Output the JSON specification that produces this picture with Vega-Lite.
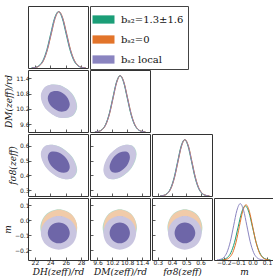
{
"$schema":"https://vega.github.io/schema/vega-lite/v6.json",
"padding":{"left":2,"top":5,"right":2,"bottom":2},
"autosize":{"type":"pad"},
"background":"white",
"columns":4,
"spacing":0,
"datasets":{
"contours":[
{"panel":"DH-DM","contour":"A1 1.3±1.6 95%","i":0,"x":27.49,"y":10.3},{"panel":"DH-DM","contour":"A1 1.3±1.6 95%","i":1,"x":26.81,"y":10.81},{"panel":"DH-DM","contour":"A1 1.3±1.6 95%","i":2,"x":25.16,"y":11.13},{"panel":"DH-DM","contour":"A1 1.3±1.6 95%","i":3,"x":23.51,"y":11.09},{"panel":"DH-DM","contour":"A1 1.3±1.6 95%","i":4,"x":22.83,"y":10.7},{"panel":"DH-DM","contour":"A1 1.3±1.6 95%","i":5,"x":23.51,"y":10.19},{"panel":"DH-DM","contour":"A1 1.3±1.6 95%","i":6,"x":25.16,"y":9.87},{"panel":"DH-DM","contour":"A1 1.3±1.6 95%","i":7,"x":26.81,"y":9.91},
{"panel":"DH-DM","contour":"C1 local 95%","i":0,"x":27.43,"y":10.3},{"panel":"DH-DM","contour":"C1 local 95%","i":1,"x":26.75,"y":10.81},{"panel":"DH-DM","contour":"C1 local 95%","i":2,"x":25.1,"y":11.13},{"panel":"DH-DM","contour":"C1 local 95%","i":3,"x":23.45,"y":11.09},{"panel":"DH-DM","contour":"C1 local 95%","i":4,"x":22.77,"y":10.7},{"panel":"DH-DM","contour":"C1 local 95%","i":5,"x":23.45,"y":10.19},{"panel":"DH-DM","contour":"C1 local 95%","i":6,"x":25.1,"y":9.87},{"panel":"DH-DM","contour":"C1 local 95%","i":7,"x":26.75,"y":9.91},
{"panel":"DH-DM","contour":"C2 local 68%","i":0,"x":26.53,"y":10.38},{"panel":"DH-DM","contour":"C2 local 68%","i":1,"x":26.11,"y":10.69},{"panel":"DH-DM","contour":"C2 local 68%","i":2,"x":25.1,"y":10.89},{"panel":"DH-DM","contour":"C2 local 68%","i":3,"x":24.09,"y":10.86},{"panel":"DH-DM","contour":"C2 local 68%","i":4,"x":23.67,"y":10.62},{"panel":"DH-DM","contour":"C2 local 68%","i":5,"x":24.09,"y":10.31},{"panel":"DH-DM","contour":"C2 local 68%","i":6,"x":25.1,"y":10.11},{"panel":"DH-DM","contour":"C2 local 68%","i":7,"x":26.11,"y":10.14},

{"panel":"DH-fs8","contour":"A1 1.3±1.6 95%","i":0,"x":27.49,"y":0.437},{"panel":"DH-fs8","contour":"A1 1.3±1.6 95%","i":1,"x":26.81,"y":0.527},{"panel":"DH-fs8","contour":"A1 1.3±1.6 95%","i":2,"x":25.16,"y":0.595},{"panel":"DH-fs8","contour":"A1 1.3±1.6 95%","i":3,"x":23.51,"y":0.602},{"panel":"DH-fs8","contour":"A1 1.3±1.6 95%","i":4,"x":22.83,"y":0.543},{"panel":"DH-fs8","contour":"A1 1.3±1.6 95%","i":5,"x":23.51,"y":0.453},{"panel":"DH-fs8","contour":"A1 1.3±1.6 95%","i":6,"x":25.16,"y":0.385},{"panel":"DH-fs8","contour":"A1 1.3±1.6 95%","i":7,"x":26.81,"y":0.378},
{"panel":"DH-fs8","contour":"C1 local 95%","i":0,"x":27.43,"y":0.437},{"panel":"DH-fs8","contour":"C1 local 95%","i":1,"x":26.75,"y":0.527},{"panel":"DH-fs8","contour":"C1 local 95%","i":2,"x":25.1,"y":0.595},{"panel":"DH-fs8","contour":"C1 local 95%","i":3,"x":23.45,"y":0.602},{"panel":"DH-fs8","contour":"C1 local 95%","i":4,"x":22.77,"y":0.543},{"panel":"DH-fs8","contour":"C1 local 95%","i":5,"x":23.45,"y":0.453},{"panel":"DH-fs8","contour":"C1 local 95%","i":6,"x":25.1,"y":0.385},{"panel":"DH-fs8","contour":"C1 local 95%","i":7,"x":26.75,"y":0.378},
{"panel":"DH-fs8","contour":"C2 local 68%","i":0,"x":26.53,"y":0.457},{"panel":"DH-fs8","contour":"C2 local 68%","i":1,"x":26.11,"y":0.513},{"panel":"DH-fs8","contour":"C2 local 68%","i":2,"x":25.1,"y":0.555},{"panel":"DH-fs8","contour":"C2 local 68%","i":3,"x":24.09,"y":0.559},{"panel":"DH-fs8","contour":"C2 local 68%","i":4,"x":23.67,"y":0.523},{"panel":"DH-fs8","contour":"C2 local 68%","i":5,"x":24.09,"y":0.467},{"panel":"DH-fs8","contour":"C2 local 68%","i":6,"x":25.1,"y":0.425},{"panel":"DH-fs8","contour":"C2 local 68%","i":7,"x":26.11,"y":0.421},

{"panel":"DM-fs8","contour":"A1 1.3±1.6 95%","i":0,"x":11.18,"y":0.543},{"panel":"DM-fs8","contour":"A1 1.3±1.6 95%","i":1,"x":10.99,"y":0.602},{"panel":"DM-fs8","contour":"A1 1.3±1.6 95%","i":2,"x":10.52,"y":0.595},{"panel":"DM-fs8","contour":"A1 1.3±1.6 95%","i":3,"x":10.05,"y":0.527},{"panel":"DM-fs8","contour":"A1 1.3±1.6 95%","i":4,"x":9.86,"y":0.437},{"panel":"DM-fs8","contour":"A1 1.3±1.6 95%","i":5,"x":10.05,"y":0.378},{"panel":"DM-fs8","contour":"A1 1.3±1.6 95%","i":6,"x":10.52,"y":0.385},{"panel":"DM-fs8","contour":"A1 1.3±1.6 95%","i":7,"x":10.99,"y":0.453},
{"panel":"DM-fs8","contour":"C1 local 95%","i":0,"x":11.16,"y":0.543},{"panel":"DM-fs8","contour":"C1 local 95%","i":1,"x":10.97,"y":0.602},{"panel":"DM-fs8","contour":"C1 local 95%","i":2,"x":10.5,"y":0.595},{"panel":"DM-fs8","contour":"C1 local 95%","i":3,"x":10.03,"y":0.527},{"panel":"DM-fs8","contour":"C1 local 95%","i":4,"x":9.84,"y":0.437},{"panel":"DM-fs8","contour":"C1 local 95%","i":5,"x":10.03,"y":0.378},{"panel":"DM-fs8","contour":"C1 local 95%","i":6,"x":10.5,"y":0.385},{"panel":"DM-fs8","contour":"C1 local 95%","i":7,"x":10.97,"y":0.453},
{"panel":"DM-fs8","contour":"C2 local 68%","i":0,"x":10.91,"y":0.523},{"panel":"DM-fs8","contour":"C2 local 68%","i":1,"x":10.79,"y":0.559},{"panel":"DM-fs8","contour":"C2 local 68%","i":2,"x":10.5,"y":0.555},{"panel":"DM-fs8","contour":"C2 local 68%","i":3,"x":10.21,"y":0.513},{"panel":"DM-fs8","contour":"C2 local 68%","i":4,"x":10.09,"y":0.457},{"panel":"DM-fs8","contour":"C2 local 68%","i":5,"x":10.21,"y":0.421},{"panel":"DM-fs8","contour":"C2 local 68%","i":6,"x":10.5,"y":0.425},{"panel":"DM-fs8","contour":"C2 local 68%","i":7,"x":10.79,"y":0.467},

{"panel":"DH-m","contour":"A1 1.3±1.6 95%","i":0,"x":27.5,"y":-0.05},{"panel":"DH-m","contour":"A1 1.3±1.6 95%","i":1,"x":26.8,"y":0.037},{"panel":"DH-m","contour":"A1 1.3±1.6 95%","i":2,"x":25.1,"y":0.073},{"panel":"DH-m","contour":"A1 1.3±1.6 95%","i":3,"x":23.4,"y":0.037},{"panel":"DH-m","contour":"A1 1.3±1.6 95%","i":4,"x":22.7,"y":-0.05},{"panel":"DH-m","contour":"A1 1.3±1.6 95%","i":5,"x":23.4,"y":-0.137},{"panel":"DH-m","contour":"A1 1.3±1.6 95%","i":6,"x":25.1,"y":-0.173},{"panel":"DH-m","contour":"A1 1.3±1.6 95%","i":7,"x":26.8,"y":-0.137},
{"panel":"DH-m","contour":"A2 1.3±1.6 68%","i":0,"x":26.58,"y":-0.05},{"panel":"DH-m","contour":"A2 1.3±1.6 68%","i":1,"x":26.15,"y":0.003},{"panel":"DH-m","contour":"A2 1.3±1.6 68%","i":2,"x":25.1,"y":0.026},{"panel":"DH-m","contour":"A2 1.3±1.6 68%","i":3,"x":24.05,"y":0.003},{"panel":"DH-m","contour":"A2 1.3±1.6 68%","i":4,"x":23.62,"y":-0.05},{"panel":"DH-m","contour":"A2 1.3±1.6 68%","i":5,"x":24.05,"y":-0.103},{"panel":"DH-m","contour":"A2 1.3±1.6 68%","i":6,"x":25.1,"y":-0.126},{"panel":"DH-m","contour":"A2 1.3±1.6 68%","i":7,"x":26.15,"y":-0.103},
{"panel":"DH-m","contour":"B1 0 95%","i":0,"x":27.48,"y":-0.045},{"panel":"DH-m","contour":"B1 0 95%","i":1,"x":26.8,"y":0.036},{"panel":"DH-m","contour":"B1 0 95%","i":2,"x":25.15,"y":0.07},{"panel":"DH-m","contour":"B1 0 95%","i":3,"x":23.5,"y":0.036},{"panel":"DH-m","contour":"B1 0 95%","i":4,"x":22.82,"y":-0.045},{"panel":"DH-m","contour":"B1 0 95%","i":5,"x":23.5,"y":-0.126},{"panel":"DH-m","contour":"B1 0 95%","i":6,"x":25.15,"y":-0.16},{"panel":"DH-m","contour":"B1 0 95%","i":7,"x":26.8,"y":-0.126},
{"panel":"DH-m","contour":"B2 0 68%","i":0,"x":26.59,"y":-0.045},{"panel":"DH-m","contour":"B2 0 68%","i":1,"x":26.16,"y":0.005},{"panel":"DH-m","contour":"B2 0 68%","i":2,"x":25.15,"y":0.026},{"panel":"DH-m","contour":"B2 0 68%","i":3,"x":24.14,"y":0.005},{"panel":"DH-m","contour":"B2 0 68%","i":4,"x":23.72,"y":-0.045},{"panel":"DH-m","contour":"B2 0 68%","i":5,"x":24.14,"y":-0.095},{"panel":"DH-m","contour":"B2 0 68%","i":6,"x":25.15,"y":-0.116},{"panel":"DH-m","contour":"B2 0 68%","i":7,"x":26.16,"y":-0.095},
{"panel":"DH-m","contour":"C1 local 95%","i":0,"x":27.43,"y":-0.085},{"panel":"DH-m","contour":"C1 local 95%","i":1,"x":26.75,"y":-0.005},{"panel":"DH-m","contour":"C1 local 95%","i":2,"x":25.1,"y":0.028},{"panel":"DH-m","contour":"C1 local 95%","i":3,"x":23.45,"y":-0.005},{"panel":"DH-m","contour":"C1 local 95%","i":4,"x":22.77,"y":-0.085},{"panel":"DH-m","contour":"C1 local 95%","i":5,"x":23.45,"y":-0.165},{"panel":"DH-m","contour":"C1 local 95%","i":6,"x":25.1,"y":-0.198},{"panel":"DH-m","contour":"C1 local 95%","i":7,"x":26.75,"y":-0.165},
{"panel":"DH-m","contour":"C2 local 68%","i":0,"x":26.53,"y":-0.085},{"panel":"DH-m","contour":"C2 local 68%","i":1,"x":26.11,"y":-0.036},{"panel":"DH-m","contour":"C2 local 68%","i":2,"x":25.1,"y":-0.016},{"panel":"DH-m","contour":"C2 local 68%","i":3,"x":24.09,"y":-0.036},{"panel":"DH-m","contour":"C2 local 68%","i":4,"x":23.67,"y":-0.085},{"panel":"DH-m","contour":"C2 local 68%","i":5,"x":24.09,"y":-0.134},{"panel":"DH-m","contour":"C2 local 68%","i":6,"x":25.1,"y":-0.155},{"panel":"DH-m","contour":"C2 local 68%","i":7,"x":26.11,"y":-0.134},

{"panel":"DM-m","contour":"A1 1.3±1.6 95%","i":0,"x":11.19,"y":-0.05},{"panel":"DM-m","contour":"A1 1.3±1.6 95%","i":1,"x":10.99,"y":0.037},{"panel":"DM-m","contour":"A1 1.3±1.6 95%","i":2,"x":10.5,"y":0.073},{"panel":"DM-m","contour":"A1 1.3±1.6 95%","i":3,"x":10.02,"y":0.037},{"panel":"DM-m","contour":"A1 1.3±1.6 95%","i":4,"x":9.81,"y":-0.05},{"panel":"DM-m","contour":"A1 1.3±1.6 95%","i":5,"x":10.02,"y":-0.137},{"panel":"DM-m","contour":"A1 1.3±1.6 95%","i":6,"x":10.5,"y":-0.173},{"panel":"DM-m","contour":"A1 1.3±1.6 95%","i":7,"x":10.99,"y":-0.137},
{"panel":"DM-m","contour":"A2 1.3±1.6 68%","i":0,"x":10.92,"y":-0.05},{"panel":"DM-m","contour":"A2 1.3±1.6 68%","i":1,"x":10.8,"y":0.003},{"panel":"DM-m","contour":"A2 1.3±1.6 68%","i":2,"x":10.5,"y":0.026},{"panel":"DM-m","contour":"A2 1.3±1.6 68%","i":3,"x":10.2,"y":0.003},{"panel":"DM-m","contour":"A2 1.3±1.6 68%","i":4,"x":10.08,"y":-0.05},{"panel":"DM-m","contour":"A2 1.3±1.6 68%","i":5,"x":10.2,"y":-0.103},{"panel":"DM-m","contour":"A2 1.3±1.6 68%","i":6,"x":10.5,"y":-0.126},{"panel":"DM-m","contour":"A2 1.3±1.6 68%","i":7,"x":10.8,"y":-0.103},
{"panel":"DM-m","contour":"B1 0 95%","i":0,"x":11.17,"y":-0.045},{"panel":"DM-m","contour":"B1 0 95%","i":1,"x":10.98,"y":0.036},{"panel":"DM-m","contour":"B1 0 95%","i":2,"x":10.51,"y":0.07},{"panel":"DM-m","contour":"B1 0 95%","i":3,"x":10.04,"y":0.036},{"panel":"DM-m","contour":"B1 0 95%","i":4,"x":9.85,"y":-0.045},{"panel":"DM-m","contour":"B1 0 95%","i":5,"x":10.04,"y":-0.126},{"panel":"DM-m","contour":"B1 0 95%","i":6,"x":10.51,"y":-0.16},{"panel":"DM-m","contour":"B1 0 95%","i":7,"x":10.98,"y":-0.126},
{"panel":"DM-m","contour":"B2 0 68%","i":0,"x":10.92,"y":-0.045},{"panel":"DM-m","contour":"B2 0 68%","i":1,"x":10.8,"y":0.005},{"panel":"DM-m","contour":"B2 0 68%","i":2,"x":10.51,"y":0.026},{"panel":"DM-m","contour":"B2 0 68%","i":3,"x":10.22,"y":0.005},{"panel":"DM-m","contour":"B2 0 68%","i":4,"x":10.1,"y":-0.045},{"panel":"DM-m","contour":"B2 0 68%","i":5,"x":10.22,"y":-0.095},{"panel":"DM-m","contour":"B2 0 68%","i":6,"x":10.51,"y":-0.116},{"panel":"DM-m","contour":"B2 0 68%","i":7,"x":10.8,"y":-0.095},
{"panel":"DM-m","contour":"C1 local 95%","i":0,"x":11.16,"y":-0.085},{"panel":"DM-m","contour":"C1 local 95%","i":1,"x":10.97,"y":-0.005},{"panel":"DM-m","contour":"C1 local 95%","i":2,"x":10.5,"y":0.028},{"panel":"DM-m","contour":"C1 local 95%","i":3,"x":10.03,"y":-0.005},{"panel":"DM-m","contour":"C1 local 95%","i":4,"x":9.84,"y":-0.085},{"panel":"DM-m","contour":"C1 local 95%","i":5,"x":10.03,"y":-0.165},{"panel":"DM-m","contour":"C1 local 95%","i":6,"x":10.5,"y":-0.198},{"panel":"DM-m","contour":"C1 local 95%","i":7,"x":10.97,"y":-0.165},
{"panel":"DM-m","contour":"C2 local 68%","i":0,"x":10.91,"y":-0.085},{"panel":"DM-m","contour":"C2 local 68%","i":1,"x":10.79,"y":-0.036},{"panel":"DM-m","contour":"C2 local 68%","i":2,"x":10.5,"y":-0.016},{"panel":"DM-m","contour":"C2 local 68%","i":3,"x":10.21,"y":-0.036},{"panel":"DM-m","contour":"C2 local 68%","i":4,"x":10.09,"y":-0.085},{"panel":"DM-m","contour":"C2 local 68%","i":5,"x":10.21,"y":-0.134},{"panel":"DM-m","contour":"C2 local 68%","i":6,"x":10.5,"y":-0.155},{"panel":"DM-m","contour":"C2 local 68%","i":7,"x":10.79,"y":-0.134},

{"panel":"fs8-m","contour":"A1 1.3±1.6 95%","i":0,"x":0.613,"y":-0.05},{"panel":"fs8-m","contour":"A1 1.3±1.6 95%","i":1,"x":0.577,"y":0.037},{"panel":"fs8-m","contour":"A1 1.3±1.6 95%","i":2,"x":0.49,"y":0.073},{"panel":"fs8-m","contour":"A1 1.3±1.6 95%","i":3,"x":0.403,"y":0.037},{"panel":"fs8-m","contour":"A1 1.3±1.6 95%","i":4,"x":0.368,"y":-0.05},{"panel":"fs8-m","contour":"A1 1.3±1.6 95%","i":5,"x":0.403,"y":-0.137},{"panel":"fs8-m","contour":"A1 1.3±1.6 95%","i":6,"x":0.49,"y":-0.173},{"panel":"fs8-m","contour":"A1 1.3±1.6 95%","i":7,"x":0.577,"y":-0.137},
{"panel":"fs8-m","contour":"A2 1.3±1.6 68%","i":0,"x":0.566,"y":-0.05},{"panel":"fs8-m","contour":"A2 1.3±1.6 68%","i":1,"x":0.543,"y":0.003},{"panel":"fs8-m","contour":"A2 1.3±1.6 68%","i":2,"x":0.49,"y":0.026},{"panel":"fs8-m","contour":"A2 1.3±1.6 68%","i":3,"x":0.437,"y":0.003},{"panel":"fs8-m","contour":"A2 1.3±1.6 68%","i":4,"x":0.415,"y":-0.05},{"panel":"fs8-m","contour":"A2 1.3±1.6 68%","i":5,"x":0.437,"y":-0.103},{"panel":"fs8-m","contour":"A2 1.3±1.6 68%","i":6,"x":0.49,"y":-0.126},{"panel":"fs8-m","contour":"A2 1.3±1.6 68%","i":7,"x":0.543,"y":-0.103},
{"panel":"fs8-m","contour":"B1 0 95%","i":0,"x":0.608,"y":-0.045},{"panel":"fs8-m","contour":"B1 0 95%","i":1,"x":0.573,"y":0.036},{"panel":"fs8-m","contour":"B1 0 95%","i":2,"x":0.49,"y":0.07},{"panel":"fs8-m","contour":"B1 0 95%","i":3,"x":0.407,"y":0.036},{"panel":"fs8-m","contour":"B1 0 95%","i":4,"x":0.372,"y":-0.045},{"panel":"fs8-m","contour":"B1 0 95%","i":5,"x":0.407,"y":-0.126},{"panel":"fs8-m","contour":"B1 0 95%","i":6,"x":0.49,"y":-0.16},{"panel":"fs8-m","contour":"B1 0 95%","i":7,"x":0.573,"y":-0.126},
{"panel":"fs8-m","contour":"B2 0 68%","i":0,"x":0.563,"y":-0.045},{"panel":"fs8-m","contour":"B2 0 68%","i":1,"x":0.541,"y":0.005},{"panel":"fs8-m","contour":"B2 0 68%","i":2,"x":0.49,"y":0.026},{"panel":"fs8-m","contour":"B2 0 68%","i":3,"x":0.439,"y":0.005},{"panel":"fs8-m","contour":"B2 0 68%","i":4,"x":0.418,"y":-0.045},{"panel":"fs8-m","contour":"B2 0 68%","i":5,"x":0.439,"y":-0.095},{"panel":"fs8-m","contour":"B2 0 68%","i":6,"x":0.49,"y":-0.116},{"panel":"fs8-m","contour":"B2 0 68%","i":7,"x":0.541,"y":-0.095},
{"panel":"fs8-m","contour":"C1 local 95%","i":0,"x":0.608,"y":-0.085},{"panel":"fs8-m","contour":"C1 local 95%","i":1,"x":0.573,"y":-0.005},{"panel":"fs8-m","contour":"C1 local 95%","i":2,"x":0.49,"y":0.028},{"panel":"fs8-m","contour":"C1 local 95%","i":3,"x":0.407,"y":-0.005},{"panel":"fs8-m","contour":"C1 local 95%","i":4,"x":0.372,"y":-0.085},{"panel":"fs8-m","contour":"C1 local 95%","i":5,"x":0.407,"y":-0.165},{"panel":"fs8-m","contour":"C1 local 95%","i":6,"x":0.49,"y":-0.198},{"panel":"fs8-m","contour":"C1 local 95%","i":7,"x":0.573,"y":-0.165},
{"panel":"fs8-m","contour":"C2 local 68%","i":0,"x":0.563,"y":-0.085},{"panel":"fs8-m","contour":"C2 local 68%","i":1,"x":0.541,"y":-0.036},{"panel":"fs8-m","contour":"C2 local 68%","i":2,"x":0.49,"y":-0.016},{"panel":"fs8-m","contour":"C2 local 68%","i":3,"x":0.439,"y":-0.036},{"panel":"fs8-m","contour":"C2 local 68%","i":4,"x":0.418,"y":-0.085},{"panel":"fs8-m","contour":"C2 local 68%","i":5,"x":0.439,"y":-0.134},{"panel":"fs8-m","contour":"C2 local 68%","i":6,"x":0.49,"y":-0.155},{"panel":"fs8-m","contour":"C2 local 68%","i":7,"x":0.541,"y":-0.134}
],
"curves":[
{"param":"DH","model":"bₛ₂=1.3±1.6","x":21.55,"y":0.0022},{"param":"DH","model":"bₛ₂=1.3±1.6","x":22.05,"y":0.0111},{"param":"DH","model":"bₛ₂=1.3±1.6","x":22.55,"y":0.0439},{"param":"DH","model":"bₛ₂=1.3±1.6","x":23.05,"y":0.1353},{"param":"DH","model":"bₛ₂=1.3±1.6","x":23.55,"y":0.3247},{"param":"DH","model":"bₛ₂=1.3±1.6","x":24.05,"y":0.6065},{"param":"DH","model":"bₛ₂=1.3±1.6","x":24.55,"y":0.8825},{"param":"DH","model":"bₛ₂=1.3±1.6","x":25.05,"y":1},{"param":"DH","model":"bₛ₂=1.3±1.6","x":25.55,"y":0.8825},{"param":"DH","model":"bₛ₂=1.3±1.6","x":26.05,"y":0.6065},{"param":"DH","model":"bₛ₂=1.3±1.6","x":26.55,"y":0.3247},{"param":"DH","model":"bₛ₂=1.3±1.6","x":27.05,"y":0.1353},{"param":"DH","model":"bₛ₂=1.3±1.6","x":27.55,"y":0.0439},{"param":"DH","model":"bₛ₂=1.3±1.6","x":28.05,"y":0.0111},{"param":"DH","model":"bₛ₂=1.3±1.6","x":28.55,"y":0.0022},
{"param":"DH","model":"bₛ₂=0","x":21.63,"y":0.0022},{"param":"DH","model":"bₛ₂=0","x":22.13,"y":0.0111},{"param":"DH","model":"bₛ₂=0","x":22.63,"y":0.0439},{"param":"DH","model":"bₛ₂=0","x":23.13,"y":0.1353},{"param":"DH","model":"bₛ₂=0","x":23.63,"y":0.3247},{"param":"DH","model":"bₛ₂=0","x":24.13,"y":0.6065},{"param":"DH","model":"bₛ₂=0","x":24.63,"y":0.8825},{"param":"DH","model":"bₛ₂=0","x":25.13,"y":1},{"param":"DH","model":"bₛ₂=0","x":25.63,"y":0.8825},{"param":"DH","model":"bₛ₂=0","x":26.13,"y":0.6065},{"param":"DH","model":"bₛ₂=0","x":26.63,"y":0.3247},{"param":"DH","model":"bₛ₂=0","x":27.13,"y":0.1353},{"param":"DH","model":"bₛ₂=0","x":27.63,"y":0.0439},{"param":"DH","model":"bₛ₂=0","x":28.13,"y":0.0111},{"param":"DH","model":"bₛ₂=0","x":28.63,"y":0.0022},
{"param":"DH","model":"bₛ₂ local","x":21.6,"y":0.0022},{"param":"DH","model":"bₛ₂ local","x":22.1,"y":0.0111},{"param":"DH","model":"bₛ₂ local","x":22.6,"y":0.0439},{"param":"DH","model":"bₛ₂ local","x":23.1,"y":0.1353},{"param":"DH","model":"bₛ₂ local","x":23.6,"y":0.3247},{"param":"DH","model":"bₛ₂ local","x":24.1,"y":0.6065},{"param":"DH","model":"bₛ₂ local","x":24.6,"y":0.8825},{"param":"DH","model":"bₛ₂ local","x":25.1,"y":1},{"param":"DH","model":"bₛ₂ local","x":25.6,"y":0.8825},{"param":"DH","model":"bₛ₂ local","x":26.1,"y":0.6065},{"param":"DH","model":"bₛ₂ local","x":26.6,"y":0.3247},{"param":"DH","model":"bₛ₂ local","x":27.1,"y":0.1353},{"param":"DH","model":"bₛ₂ local","x":27.6,"y":0.0439},{"param":"DH","model":"bₛ₂ local","x":28.1,"y":0.0111},{"param":"DH","model":"bₛ₂ local","x":28.6,"y":0.0022},

{"param":"DM","model":"bₛ₂=1.3±1.6","x":9.495,"y":0.0022},{"param":"DM","model":"bₛ₂=1.3±1.6","x":9.64,"y":0.0111},{"param":"DM","model":"bₛ₂=1.3±1.6","x":9.785,"y":0.0439},{"param":"DM","model":"bₛ₂=1.3±1.6","x":9.93,"y":0.1353},{"param":"DM","model":"bₛ₂=1.3±1.6","x":10.075,"y":0.3247},{"param":"DM","model":"bₛ₂=1.3±1.6","x":10.22,"y":0.6065},{"param":"DM","model":"bₛ₂=1.3±1.6","x":10.365,"y":0.8825},{"param":"DM","model":"bₛ₂=1.3±1.6","x":10.51,"y":1},{"param":"DM","model":"bₛ₂=1.3±1.6","x":10.655,"y":0.8825},{"param":"DM","model":"bₛ₂=1.3±1.6","x":10.8,"y":0.6065},{"param":"DM","model":"bₛ₂=1.3±1.6","x":10.945,"y":0.3247},{"param":"DM","model":"bₛ₂=1.3±1.6","x":11.09,"y":0.1353},{"param":"DM","model":"bₛ₂=1.3±1.6","x":11.235,"y":0.0439},{"param":"DM","model":"bₛ₂=1.3±1.6","x":11.38,"y":0.0111},{"param":"DM","model":"bₛ₂=1.3±1.6","x":11.525,"y":0.0022},
{"param":"DM","model":"bₛ₂=0","x":9.51,"y":0.0022},{"param":"DM","model":"bₛ₂=0","x":9.655,"y":0.0111},{"param":"DM","model":"bₛ₂=0","x":9.8,"y":0.0439},{"param":"DM","model":"bₛ₂=0","x":9.945,"y":0.1353},{"param":"DM","model":"bₛ₂=0","x":10.09,"y":0.3247},{"param":"DM","model":"bₛ₂=0","x":10.235,"y":0.6065},{"param":"DM","model":"bₛ₂=0","x":10.38,"y":0.8825},{"param":"DM","model":"bₛ₂=0","x":10.525,"y":1},{"param":"DM","model":"bₛ₂=0","x":10.67,"y":0.8825},{"param":"DM","model":"bₛ₂=0","x":10.815,"y":0.6065},{"param":"DM","model":"bₛ₂=0","x":10.96,"y":0.3247},{"param":"DM","model":"bₛ₂=0","x":11.105,"y":0.1353},{"param":"DM","model":"bₛ₂=0","x":11.25,"y":0.0439},{"param":"DM","model":"bₛ₂=0","x":11.395,"y":0.0111},{"param":"DM","model":"bₛ₂=0","x":11.54,"y":0.0022},
{"param":"DM","model":"bₛ₂ local","x":9.505,"y":0.0022},{"param":"DM","model":"bₛ₂ local","x":9.65,"y":0.0111},{"param":"DM","model":"bₛ₂ local","x":9.795,"y":0.0439},{"param":"DM","model":"bₛ₂ local","x":9.94,"y":0.1353},{"param":"DM","model":"bₛ₂ local","x":10.085,"y":0.3247},{"param":"DM","model":"bₛ₂ local","x":10.23,"y":0.6065},{"param":"DM","model":"bₛ₂ local","x":10.375,"y":0.8825},{"param":"DM","model":"bₛ₂ local","x":10.52,"y":1},{"param":"DM","model":"bₛ₂ local","x":10.665,"y":0.8825},{"param":"DM","model":"bₛ₂ local","x":10.81,"y":0.6065},{"param":"DM","model":"bₛ₂ local","x":10.955,"y":0.3247},{"param":"DM","model":"bₛ₂ local","x":11.1,"y":0.1353},{"param":"DM","model":"bₛ₂ local","x":11.245,"y":0.0439},{"param":"DM","model":"bₛ₂ local","x":11.39,"y":0.0111},{"param":"DM","model":"bₛ₂ local","x":11.535,"y":0.0022},

{"param":"fs8","model":"bₛ₂=1.3±1.6","x":0.3165,"y":0.0022},{"param":"fs8","model":"bₛ₂=1.3±1.6","x":0.341,"y":0.0111},{"param":"fs8","model":"bₛ₂=1.3±1.6","x":0.3655,"y":0.0439},{"param":"fs8","model":"bₛ₂=1.3±1.6","x":0.39,"y":0.1353},{"param":"fs8","model":"bₛ₂=1.3±1.6","x":0.4145,"y":0.3247},{"param":"fs8","model":"bₛ₂=1.3±1.6","x":0.439,"y":0.6065},{"param":"fs8","model":"bₛ₂=1.3±1.6","x":0.4635,"y":0.8825},{"param":"fs8","model":"bₛ₂=1.3±1.6","x":0.488,"y":1},{"param":"fs8","model":"bₛ₂=1.3±1.6","x":0.5125,"y":0.8825},{"param":"fs8","model":"bₛ₂=1.3±1.6","x":0.537,"y":0.6065},{"param":"fs8","model":"bₛ₂=1.3±1.6","x":0.5615,"y":0.3247},{"param":"fs8","model":"bₛ₂=1.3±1.6","x":0.586,"y":0.1353},{"param":"fs8","model":"bₛ₂=1.3±1.6","x":0.6105,"y":0.0439},{"param":"fs8","model":"bₛ₂=1.3±1.6","x":0.635,"y":0.0111},{"param":"fs8","model":"bₛ₂=1.3±1.6","x":0.6595,"y":0.0022},
{"param":"fs8","model":"bₛ₂=0","x":0.3195,"y":0.0022},{"param":"fs8","model":"bₛ₂=0","x":0.344,"y":0.0111},{"param":"fs8","model":"bₛ₂=0","x":0.3685,"y":0.0439},{"param":"fs8","model":"bₛ₂=0","x":0.393,"y":0.1353},{"param":"fs8","model":"bₛ₂=0","x":0.4175,"y":0.3247},{"param":"fs8","model":"bₛ₂=0","x":0.442,"y":0.6065},{"param":"fs8","model":"bₛ₂=0","x":0.4665,"y":0.8825},{"param":"fs8","model":"bₛ₂=0","x":0.491,"y":1},{"param":"fs8","model":"bₛ₂=0","x":0.5155,"y":0.8825},{"param":"fs8","model":"bₛ₂=0","x":0.54,"y":0.6065},{"param":"fs8","model":"bₛ₂=0","x":0.5645,"y":0.3247},{"param":"fs8","model":"bₛ₂=0","x":0.589,"y":0.1353},{"param":"fs8","model":"bₛ₂=0","x":0.6135,"y":0.0439},{"param":"fs8","model":"bₛ₂=0","x":0.638,"y":0.0111},{"param":"fs8","model":"bₛ₂=0","x":0.6625,"y":0.0022},
{"param":"fs8","model":"bₛ₂ local","x":0.3185,"y":0.0022},{"param":"fs8","model":"bₛ₂ local","x":0.343,"y":0.0111},{"param":"fs8","model":"bₛ₂ local","x":0.3675,"y":0.0439},{"param":"fs8","model":"bₛ₂ local","x":0.392,"y":0.1353},{"param":"fs8","model":"bₛ₂ local","x":0.4165,"y":0.3247},{"param":"fs8","model":"bₛ₂ local","x":0.441,"y":0.6065},{"param":"fs8","model":"bₛ₂ local","x":0.4655,"y":0.8825},{"param":"fs8","model":"bₛ₂ local","x":0.49,"y":1},{"param":"fs8","model":"bₛ₂ local","x":0.5145,"y":0.8825},{"param":"fs8","model":"bₛ₂ local","x":0.539,"y":0.6065},{"param":"fs8","model":"bₛ₂ local","x":0.5635,"y":0.3247},{"param":"fs8","model":"bₛ₂ local","x":0.588,"y":0.1353},{"param":"fs8","model":"bₛ₂ local","x":0.6125,"y":0.0439},{"param":"fs8","model":"bₛ₂ local","x":0.637,"y":0.0111},{"param":"fs8","model":"bₛ₂ local","x":0.6615,"y":0.0022},

{"param":"m","model":"bₛ₂=1.3±1.6","x":-0.225,"y":0.0021},{"param":"m","model":"bₛ₂=1.3±1.6","x":-0.2,"y":0.0107},{"param":"m","model":"bₛ₂=1.3±1.6","x":-0.175,"y":0.0421},{"param":"m","model":"bₛ₂=1.3±1.6","x":-0.15,"y":0.1299},{"param":"m","model":"bₛ₂=1.3±1.6","x":-0.125,"y":0.3117},{"param":"m","model":"bₛ₂=1.3±1.6","x":-0.1,"y":0.5822},{"param":"m","model":"bₛ₂=1.3±1.6","x":-0.075,"y":0.8472},{"param":"m","model":"bₛ₂=1.3±1.6","x":-0.05,"y":0.96},{"param":"m","model":"bₛ₂=1.3±1.6","x":-0.025,"y":0.8472},{"param":"m","model":"bₛ₂=1.3±1.6","x":0,"y":0.5822},{"param":"m","model":"bₛ₂=1.3±1.6","x":0.025,"y":0.3117},{"param":"m","model":"bₛ₂=1.3±1.6","x":0.05,"y":0.1299},{"param":"m","model":"bₛ₂=1.3±1.6","x":0.075,"y":0.0421},{"param":"m","model":"bₛ₂=1.3±1.6","x":0.1,"y":0.0107},{"param":"m","model":"bₛ₂=1.3±1.6","x":0.125,"y":0.0021},
{"param":"m","model":"bₛ₂=0","x":-0.206,"y":0.0022},{"param":"m","model":"bₛ₂=0","x":-0.183,"y":0.0109},{"param":"m","model":"bₛ₂=0","x":-0.16,"y":0.043},{"param":"m","model":"bₛ₂=0","x":-0.137,"y":0.1326},{"param":"m","model":"bₛ₂=0","x":-0.114,"y":0.3182},{"param":"m","model":"bₛ₂=0","x":-0.091,"y":0.5944},{"param":"m","model":"bₛ₂=0","x":-0.068,"y":0.8649},{"param":"m","model":"bₛ₂=0","x":-0.045,"y":0.98},{"param":"m","model":"bₛ₂=0","x":-0.022,"y":0.8649},{"param":"m","model":"bₛ₂=0","x":0.001,"y":0.5944},{"param":"m","model":"bₛ₂=0","x":0.024,"y":0.3182},{"param":"m","model":"bₛ₂=0","x":0.047,"y":0.1326},{"param":"m","model":"bₛ₂=0","x":0.07,"y":0.043},{"param":"m","model":"bₛ₂=0","x":0.093,"y":0.0109},{"param":"m","model":"bₛ₂=0","x":0.116,"y":0.0022},
{"param":"m","model":"bₛ₂ local","x":-0.246,"y":0.0022},{"param":"m","model":"bₛ₂ local","x":-0.223,"y":0.0111},{"param":"m","model":"bₛ₂ local","x":-0.2,"y":0.0439},{"param":"m","model":"bₛ₂ local","x":-0.177,"y":0.1353},{"param":"m","model":"bₛ₂ local","x":-0.154,"y":0.3247},{"param":"m","model":"bₛ₂ local","x":-0.131,"y":0.6065},{"param":"m","model":"bₛ₂ local","x":-0.108,"y":0.8825},{"param":"m","model":"bₛ₂ local","x":-0.085,"y":1},{"param":"m","model":"bₛ₂ local","x":-0.062,"y":0.8825},{"param":"m","model":"bₛ₂ local","x":-0.039,"y":0.6065},{"param":"m","model":"bₛ₂ local","x":-0.016,"y":0.3247},{"param":"m","model":"bₛ₂ local","x":0.007,"y":0.1353},{"param":"m","model":"bₛ₂ local","x":0.03,"y":0.0439},{"param":"m","model":"bₛ₂ local","x":0.053,"y":0.0111},{"param":"m","model":"bₛ₂ local","x":0.076,"y":0.0022}
]
},
"concat":[
{"width":60,"height":62,"data":{"name":"curves"},"transform":[{"filter":"datum.param==='DH'"}],
 "mark":{"type":"line","interpolate":"monotone","strokeWidth":1,"clip":true},
 "encoding":{
  "x":{"field":"x","type":"quantitative","scale":{"domain":[21.1,28.9],"nice":false,"zero":false},"axis":{"values":[22,24,26,28],"labels":false,"title":null}},
  "y":{"field":"y","type":"quantitative","scale":{"domain":[0,1.1],"nice":false},"axis":null},
  "color":{"field":"model","type":"nominal","title":null,"scale":{"domain":["bₛ₂=1.3±1.6","bₛ₂=0","bₛ₂ local"],"range":["#1b9e77","#e2742a","#8a84c0"]},"legend":{"encode":{"symbols":{"update":{"fill":{"scale":"color","field":"value"},"strokeWidth":{"value":0}}}}}}
 }},
{"width":60,"height":62,"data":{"values":[]},"mark":"point","view":{"stroke":null}},
{"width":60,"height":62,"data":{"values":[]},"mark":"point","view":{"stroke":null}},
{"width":60,"height":62,"data":{"values":[]},"mark":"point","view":{"stroke":null}},

{"width":60,"height":62,"data":{"name":"contours"},"transform":[{"filter":"datum.panel==='DH-DM'"}],
 "mark":{"type":"line","filled":true,"interpolate":"cardinal-closed","strokeWidth":0,"clip":true},
 "encoding":{
  "x":{"field":"x","type":"quantitative","scale":{"domain":[21.1,28.9],"nice":false,"zero":false},"axis":{"values":[22,24,26,28],"labels":false,"title":null}},
  "y":{"field":"y","type":"quantitative","scale":{"domain":[9.3,11.72],"nice":false,"zero":false},"axis":{"values":[9.6,10.2,10.8,11.4],"format":".1f","title":"DM(zeff)/rd"}},
  "fill":{"field":"contour","type":"nominal","scale":{"domain":["A1 1.3±1.6 95%","A2 1.3±1.6 68%","B1 0 95%","B2 0 68%","C1 local 95%","C2 local 68%"],"range":["#b3dccc","#1b9e77","#f1cba9","#d9681c","#c9c5e0","#6e66a8"]},"legend":null},
  "order":{"field":"i","type":"quantitative"}
 }},
{"width":60,"height":62,"data":{"name":"curves"},"transform":[{"filter":"datum.param==='DM'"}],
 "mark":{"type":"line","interpolate":"monotone","strokeWidth":1,"clip":true},
 "encoding":{
  "x":{"field":"x","type":"quantitative","scale":{"domain":[9.3,11.72],"nice":false,"zero":false},"axis":{"values":[9.6,10.2,10.8,11.4],"labels":false,"title":null}},
  "y":{"field":"y","type":"quantitative","scale":{"domain":[0,1.1],"nice":false},"axis":null},
  "color":{"field":"model","type":"nominal","title":null,"scale":{"domain":["bₛ₂=1.3±1.6","bₛ₂=0","bₛ₂ local"],"range":["#1b9e77","#e2742a","#8a84c0"]},"legend":{"encode":{"symbols":{"update":{"fill":{"scale":"color","field":"value"},"strokeWidth":{"value":0}}}}}}
 }},
{"width":60,"height":62,"data":{"values":[]},"mark":"point","view":{"stroke":null}},
{"width":60,"height":62,"data":{"values":[]},"mark":"point","view":{"stroke":null}},

{"width":60,"height":62,"data":{"name":"contours"},"transform":[{"filter":"datum.panel==='DH-fs8'"}],
 "mark":{"type":"line","filled":true,"interpolate":"cardinal-closed","strokeWidth":0,"clip":true},
 "encoding":{
  "x":{"field":"x","type":"quantitative","scale":{"domain":[21.1,28.9],"nice":false,"zero":false},"axis":{"values":[22,24,26,28],"labels":false,"title":null}},
  "y":{"field":"y","type":"quantitative","scale":{"domain":[0.26,0.68],"nice":false,"zero":false},"axis":{"values":[0.3,0.4,0.5,0.6],"format":".1f","title":"fσ8(zeff)"}},
  "fill":{"field":"contour","type":"nominal","scale":{"domain":["A1 1.3±1.6 95%","A2 1.3±1.6 68%","B1 0 95%","B2 0 68%","C1 local 95%","C2 local 68%"],"range":["#b3dccc","#1b9e77","#f1cba9","#d9681c","#c9c5e0","#6e66a8"]},"legend":null},
  "order":{"field":"i","type":"quantitative"}
 }},
{"width":60,"height":62,"data":{"name":"contours"},"transform":[{"filter":"datum.panel==='DM-fs8'"}],
 "mark":{"type":"line","filled":true,"interpolate":"cardinal-closed","strokeWidth":0,"clip":true},
 "encoding":{
  "x":{"field":"x","type":"quantitative","scale":{"domain":[9.3,11.72],"nice":false,"zero":false},"axis":{"values":[9.6,10.2,10.8,11.4],"labels":false,"title":null}},
  "y":{"field":"y","type":"quantitative","scale":{"domain":[0.26,0.68],"nice":false,"zero":false},"axis":{"values":[0.3,0.4,0.5,0.6],"labels":false,"title":null}},
  "fill":{"field":"contour","type":"nominal","scale":{"domain":["A1 1.3±1.6 95%","A2 1.3±1.6 68%","B1 0 95%","B2 0 68%","C1 local 95%","C2 local 68%"],"range":["#b3dccc","#1b9e77","#f1cba9","#d9681c","#c9c5e0","#6e66a8"]},"legend":null},
  "order":{"field":"i","type":"quantitative"}
 }},
{"width":60,"height":62,"data":{"name":"curves"},"transform":[{"filter":"datum.param==='fs8'"}],
 "mark":{"type":"line","interpolate":"monotone","strokeWidth":1,"clip":true},
 "encoding":{
  "x":{"field":"x","type":"quantitative","scale":{"domain":[0.26,0.68],"nice":false,"zero":false},"axis":{"values":[0.3,0.4,0.5,0.6],"labels":false,"title":null}},
  "y":{"field":"y","type":"quantitative","scale":{"domain":[0,1.1],"nice":false},"axis":null},
  "color":{"field":"model","type":"nominal","title":null,"scale":{"domain":["bₛ₂=1.3±1.6","bₛ₂=0","bₛ₂ local"],"range":["#1b9e77","#e2742a","#8a84c0"]},"legend":{"encode":{"symbols":{"update":{"fill":{"scale":"color","field":"value"},"strokeWidth":{"value":0}}}}}}
 }},
{"width":60,"height":62,"data":{"values":[]},"mark":"point","view":{"stroke":null}},

{"width":60,"height":62,"data":{"name":"contours"},"transform":[{"filter":"datum.panel==='DH-m'"}],
 "mark":{"type":"line","filled":true,"interpolate":"cardinal-closed","strokeWidth":0,"clip":true},
 "encoding":{
  "x":{"field":"x","type":"quantitative","scale":{"domain":[21.1,28.9],"nice":false,"zero":false},"axis":{"values":[22,24,26,28],"title":"DH(zeff)/rd"}},
  "y":{"field":"y","type":"quantitative","scale":{"domain":[-0.267,0.149],"nice":false,"zero":false},"axis":{"values":[-0.2,-0.1,0,0.1],"format":".1f","title":"m"}},
  "fill":{"field":"contour","type":"nominal","scale":{"domain":["A1 1.3±1.6 95%","A2 1.3±1.6 68%","B1 0 95%","B2 0 68%","C1 local 95%","C2 local 68%"],"range":["#b3dccc","#1b9e77","#f1cba9","#d9681c","#c9c5e0","#6e66a8"]},"legend":null},
  "order":{"field":"i","type":"quantitative"}
 }},
{"width":60,"height":62,"data":{"name":"contours"},"transform":[{"filter":"datum.panel==='DM-m'"}],
 "mark":{"type":"line","filled":true,"interpolate":"cardinal-closed","strokeWidth":0,"clip":true},
 "encoding":{
  "x":{"field":"x","type":"quantitative","scale":{"domain":[9.3,11.72],"nice":false,"zero":false},"axis":{"values":[9.6,10.2,10.8,11.4],"format":".1f","title":"DM(zeff)/rd"}},
  "y":{"field":"y","type":"quantitative","scale":{"domain":[-0.267,0.149],"nice":false,"zero":false},"axis":{"values":[-0.2,-0.1,0,0.1],"labels":false,"title":null}},
  "fill":{"field":"contour","type":"nominal","scale":{"domain":["A1 1.3±1.6 95%","A2 1.3±1.6 68%","B1 0 95%","B2 0 68%","C1 local 95%","C2 local 68%"],"range":["#b3dccc","#1b9e77","#f1cba9","#d9681c","#c9c5e0","#6e66a8"]},"legend":null},
  "order":{"field":"i","type":"quantitative"}
 }},
{"width":60,"height":62,"data":{"name":"contours"},"transform":[{"filter":"datum.panel==='fs8-m'"}],
 "mark":{"type":"line","filled":true,"interpolate":"cardinal-closed","strokeWidth":0,"clip":true},
 "encoding":{
  "x":{"field":"x","type":"quantitative","scale":{"domain":[0.26,0.68],"nice":false,"zero":false},"axis":{"values":[0.3,0.4,0.5,0.6],"format":".1f","title":"fσ8(zeff)"}},
  "y":{"field":"y","type":"quantitative","scale":{"domain":[-0.267,0.149],"nice":false,"zero":false},"axis":{"values":[-0.2,-0.1,0,0.1],"labels":false,"title":null}},
  "fill":{"field":"contour","type":"nominal","scale":{"domain":["A1 1.3±1.6 95%","A2 1.3±1.6 68%","B1 0 95%","B2 0 68%","C1 local 95%","C2 local 68%"],"range":["#b3dccc","#1b9e77","#f1cba9","#d9681c","#c9c5e0","#6e66a8"]},"legend":null},
  "order":{"field":"i","type":"quantitative"}
 }},
{"width":60,"height":62,"data":{"name":"curves"},"transform":[{"filter":"datum.param==='m'"}],
 "mark":{"type":"line","interpolate":"monotone","strokeWidth":1,"clip":true},
 "encoding":{
  "x":{"field":"x","type":"quantitative","scale":{"domain":[-0.267,0.149],"nice":false,"zero":false},"axis":{"values":[-0.2,-0.1,0,0.1],"format":".1f","title":"m"}},
  "y":{"field":"y","type":"quantitative","scale":{"domain":[0,1.1],"nice":false},"axis":null},
  "color":{"field":"model","type":"nominal","title":null,"scale":{"domain":["bₛ₂=1.3±1.6","bₛ₂=0","bₛ₂ local"],"range":["#1b9e77","#e2742a","#8a84c0"]},"legend":{"encode":{"symbols":{"update":{"fill":{"scale":"color","field":"value"},"strokeWidth":{"value":0}}}}}}
 }}
],
"config":{
 "view":{"stroke":"#333","strokeWidth":1},
 "axis":{"domain":false,"grid":false,"tickSize":-3,"tickColor":"#333","tickWidth":0.8,"labelFontSize":6,"labelFont":"DejaVu Sans","labelColor":"#222","labelPadding":2,"labelOverlap":false,"labelFlush":false,"labelBound":false,"titleFont":"DejaVu Serif","titleFontStyle":"italic","titleFontWeight":"normal","titleFontSize":9,"titleColor":"#111","titlePadding":2},
 "legend":{"orient":"none","legendX":62,"legendY":0,"symbolType":"M-1.2,-0.45H1.2V0.45H-1.2Z","symbolSize":336,"symbolStrokeWidth":0,"labelFont":"DejaVu Serif","labelFontSize":10,"labelColor":"#111","strokeColor":"#444","fillColor":"white","padding":4,"rowPadding":5,"labelOffset":8,"cornerRadius":0,"labelLimit":200,"symbolOpacity":1}
}
}
